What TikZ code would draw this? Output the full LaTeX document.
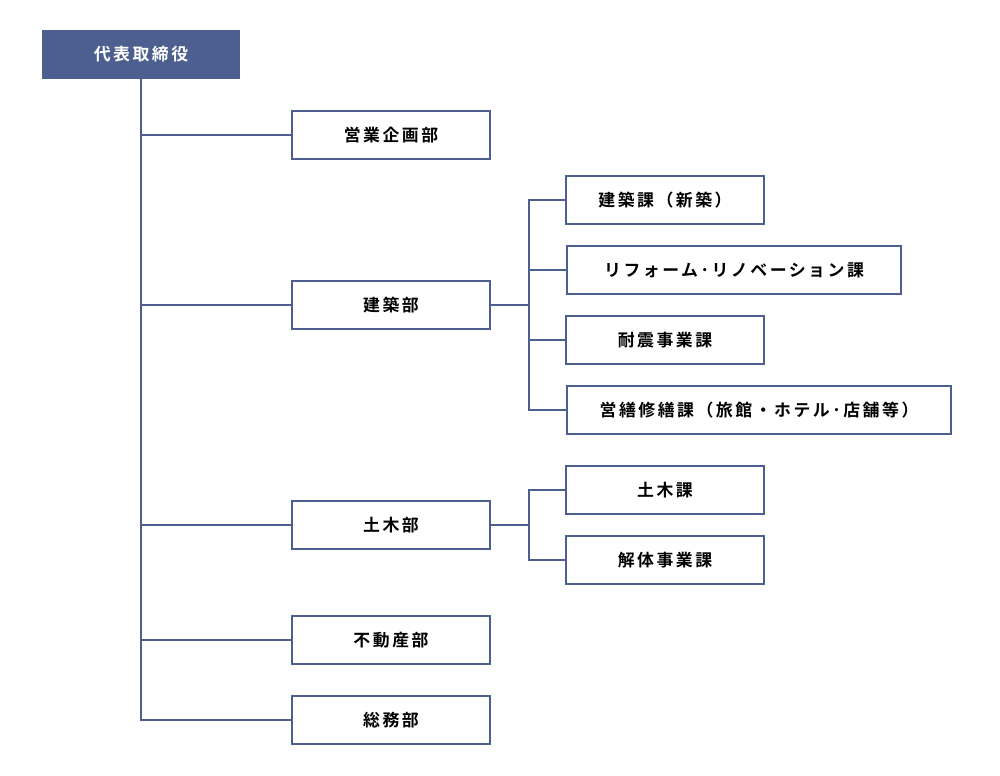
\documentclass[tikz,border=0pt]{standalone}
\usepackage{fontspec}
\usepackage{tikz}
\usetikzlibrary{positioning, calc}
\newfontfamily\jpfont[LetterSpace=15]{Noto Sans CJK JP Bold}
\definecolor{orgnavy}{RGB}{77,95,143}

\begin{document}
\begin{tikzpicture}[x=0.02cm, y=-0.02cm, font=\jpfont\fontsize{9.6pt}{11pt}\selectfont,
          dept/.style={draw=orgnavy, line width=0.04cm, fill=white, minimum height=0.96cm, text width=#1, align=center, inner sep=0pt},
          dept/.default=3.96cm,
          head/.style={fill=orgnavy, text=white, minimum width=3.98cm, minimum height=0.98cm, inner sep=0pt},
          link/.style={orgnavy, line width=0.04cm}]
        \useasboundingbox (0,0) rectangle (1000,775);
        \node[head]  (ceo)   at (141, 54.5) {代表取締役};
        % departments
        \node[dept]  (sales) at (391, 135) {営業企画部};
        \node[dept]  (arch)  at (391, 305) {建築部};
        \node[dept]  (civil) at (391, 525) {土木部};
        \node[dept]  (estate) at (391, 640) {不動産部};
        \node[dept]  (admin) at (391, 720) {総務部};
        % sections
        \node[dept]          (new)    at (665, 200) {建築課（新築）};
        \node[dept=6.68cm]   (reform) at (734, 270) {リフォーム･リノベーション課};
        \node[dept]          (quake)  at (665, 340) {耐震事業課};
        \node[dept=7.68cm]   (repair) at (759, 410) {営繕修繕課（旅館・ホテル･店舗等）};
        \node[dept]          (civsec) at (665, 490) {土木課};
        \node[dept]          (demol)  at (665, 560) {解体事業課};
        \foreach \d in {sales, arch, civil, estate, admin}
          \draw[link] (ceo.south) |- (\d.west);
        \draw[link] (arch.east) -- ++(38,0) coordinate (archbus);
        \foreach \s in {new, reform, quake, repair}
          \draw[link] (archbus) |- (\s.west);
        \draw[link] (civil.east) -- ++(38,0) coordinate (civbus);
        \foreach \s in {civsec, demol}
          \draw[link] (civbus) |- (\s.west);
      \end{tikzpicture}
\end{document}
